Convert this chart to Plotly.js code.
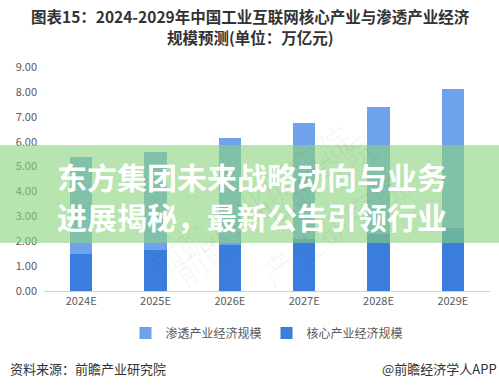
<!DOCTYPE html>
<html><head><meta charset="utf-8">
<script src="https://cdn.plot.ly/plotly-3.0.1.min.js"></script>
<style>html,body{margin:0;padding:0;background:#fff}#c{width:499px;height:389px}</style>
</head><body><div id="c"></div>
<script>
const categories = ['2024E','2025E','2026E','2027E','2028E','2029E'];
const coreValues = [1.49, 1.65, 1.85, 2.08, 2.30, 2.52];
const totalValues = [5.38, 5.58, 6.14, 6.75, 7.39, 8.11];
const penetrationValues = totalValues.map((t,i)=>+(t-coreValues[i]).toFixed(2));
const yTicks = [0,1,2,3,4,5,6,7,8,9];
const seriesNames = ['核心产业经济规模','渗透产业经济规模'];
const titleLines = ['图表15：2024-2029年中国工业互联网核心产业与渗透产业经济','规模预测(单位：万亿元)'];

const F = '"Noto Sans CJK SC", "Noto Sans", sans-serif';
const L = 44, T = 67, W = 446, H = 224;
const px = x => (x - L) / W, py = y => (T + H - y) / H;
const traces = [
  {type:'bar', name:seriesNames[0], x:categories, y:coreValues, marker:{color:'#3b7ddd'}, hoverinfo:'none'},
  {type:'bar', name:seriesNames[1], x:categories, y:penetrationValues, marker:{color:'#6ea2ea'}, hoverinfo:'none'}
];
const layout = {
  width:499, height:389,
  margin:{l:44, r:9, t:67, b:98},
  paper_bgcolor:'#fff', plot_bgcolor:'#fff',
  barmode:'stack', bargap:0.7,
  showlegend:true,
  xaxis:{type:'category', showline:true, linecolor:'#d0d0d0', linewidth:1, ticks:'', tickfont:{family:F, size:11, color:'#595959'}, showgrid:false, zeroline:false},
  yaxis:{range:[0,9], tickvals:yTicks, ticktext:yTicks.map(v=>v.toFixed(2)), showgrid:false, zeroline:false, showline:false, tickfont:{family:F, size:11, color:'#595959'}, ticklabelstandoff:6},
  legend:{orientation:'h', traceorder:'reversed', x:0.5, xanchor:'center', y:-0.188, yanchor:'middle', font:{family:F, size:12, color:'#595959'}, itemwidth:30},
  shapes:[
    {type:'rect', xref:'paper', yref:'paper', x0:-0.1, x1:1.03, y0:py(243), y1:py(145), fillcolor:'rgba(139,211,126,0.62)', line:{width:0}, layer:'above'}
  ],
  annotations:[
    {xref:'paper', yref:'paper', x:px(250), y:py(15.5), xanchor:'center', yanchor:'middle', showarrow:false, text:'<b>'+titleLines[0]+'</b>', font:{family:F, size:15.5, color:'#333'}},
    {xref:'paper', yref:'paper', x:px(250), y:py(37.5), xanchor:'center', yanchor:'middle', showarrow:false, text:'<b>'+titleLines[1]+'</b>', font:{family:F, size:15.5, color:'#333'}},
    {xref:'paper', yref:'paper', x:px(55), y:py(176), xanchor:'left', yanchor:'middle', showarrow:false, text:'<b>东方集团未来战略动向与业务</b>', font:{family:F, size:30, color:'#fff'}},
    {xref:'paper', yref:'paper', x:px(55), y:py(216), xanchor:'left', yanchor:'middle', showarrow:false, text:'<b>进展揭秘，最新公告引领行业</b>', font:{family:F, size:30, color:'#fff'}},
    {xref:'paper', yref:'paper', x:px(8), y:py(368), xanchor:'left', yanchor:'middle', showarrow:false, text:'资料来源：前瞻产业研究院', font:{family:F, size:13, color:'#333'}},
    {xref:'paper', yref:'paper', x:px(499), y:py(368), xanchor:'right', yanchor:'middle', showarrow:false, text:'@前瞻经济学人APP', font:{family:F, size:13, color:'#333'}},
    {xref:'paper', yref:'paper', x:px(250), y:py(110), showarrow:false, textangle:-35, text:'前瞻产业研究院', font:{family:F, size:34, color:'rgba(0,0,0,0.03)'}},
    {xref:'paper', yref:'paper', x:px(160), y:py(300), showarrow:false, textangle:-35, text:'前瞻产业研究院', font:{family:F, size:34, color:'rgba(0,0,0,0.03)'}},
    {xref:'paper', yref:'paper', x:px(420), y:py(300), showarrow:false, textangle:-35, text:'产业研究院', font:{family:F, size:34, color:'rgba(0,0,0,0.03)'}}
  ]
};
Plotly.newPlot('c', traces, layout, {staticPlot:true, displayModeBar:false});
</script></body></html>
